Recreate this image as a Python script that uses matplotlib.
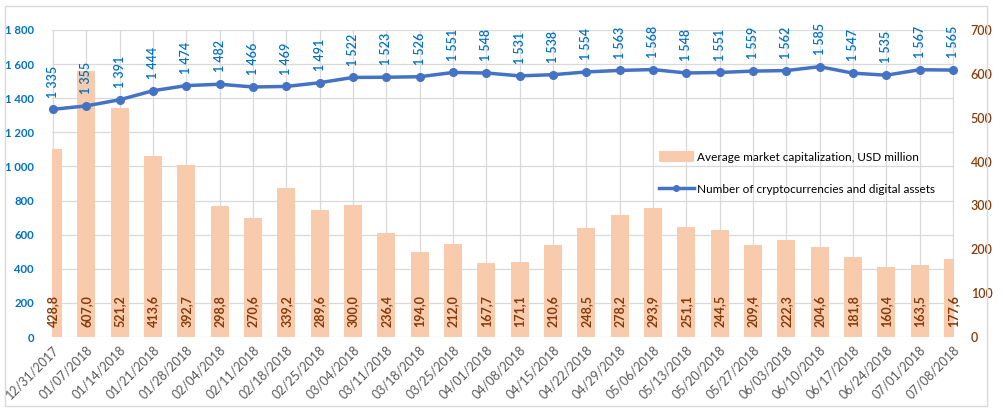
import matplotlib
matplotlib.use("Agg")
import matplotlib.pyplot as plt
from matplotlib.patches import Rectangle
from matplotlib.lines import Line2D
from matplotlib.patches import Patch

plt.rcParams['font.family'] = ['Lato', 'DejaVu Sans']

dates = ["12/31/2017", "01/07/2018", "01/14/2018", "01/21/2018", "01/28/2018",
         "02/04/2018", "02/11/2018", "02/18/2018", "02/25/2018", "03/04/2018",
         "03/11/2018", "03/18/2018", "03/25/2018", "04/01/2018", "04/08/2018",
         "04/15/2018", "04/22/2018", "04/29/2018", "05/06/2018", "05/13/2018",
         "05/20/2018", "05/27/2018", "06/03/2018", "06/10/2018", "06/17/2018",
         "06/24/2018", "07/01/2018", "07/08/2018"]
num_assets = [1335, 1355, 1391, 1444, 1474, 1482, 1466, 1469, 1491, 1522,
              1523, 1526, 1551, 1548, 1531, 1538, 1554, 1563, 1568, 1548,
              1551, 1559, 1562, 1585, 1547, 1535, 1567, 1565]
avg_cap = [428.8, 607.0, 521.2, 413.6, 392.7, 298.8, 270.6, 339.2, 289.6, 300.0,
           236.4, 194.0, 212.0, 167.7, 171.1, 210.6, 248.5, 278.2, 293.9, 251.1,
           244.5, 209.4, 222.3, 204.6, 181.8, 160.4, 163.5, 177.6]
left_ticks = [0, 200, 400, 600, 800, 1000, 1200, 1400, 1600, 1800]
right_ticks = [0, 100, 200, 300, 400, 500, 600, 700]

bar_label = "Average market capitalization, USD million"
line_label = "Number of cryptocurrencies and digital assets"

BAR_C = "#F8CBAD"
LINE_C = "#4472C4"
BLUE_T = "#0070C0"
BROWN_T = "#843C0C"
GRID_C = "#D9D9D9"

fig = plt.figure(figsize=(10.04, 4.12), dpi=100)
ax = fig.add_axes([52/1004, 75/412, 902/1004, 307/412])
x = list(range(len(dates)))

# base axes: grid + left ticks
ax.set_xlim(-0.03, len(dates) - 1 + 0.03)
ax.set_ylim(0, 1800)
ax.set_yticks(left_ticks)
ax.set_yticklabels([f"{v:,}".replace(",", " ") for v in left_ticks],
                   color=BLUE_T, fontsize=8.2, fontweight='bold')
ax.set_xticks(x)
ax.set_xticklabels(dates, rotation=45, ha='right', rotation_mode='anchor',
                   color="#595959", fontsize=9)
ax.grid(True, color=GRID_C, lw=0.9)
ax.set_axisbelow(True)
ax.tick_params(length=0)
ax.tick_params(axis='y', pad=13)
ax.tick_params(axis='x', pad=5)
for s in ax.spines.values():
    s.set_visible(False)

# bars on the right axis
axb = ax.twinx()
axb.set_ylim(0, 700)
axb.bar(x, avg_cap, width=0.54, color=BAR_C, zorder=2)
axb.set_yticks(right_ticks)
axb.set_yticklabels([str(v) for v in right_ticks], color=BROWN_T, fontsize=9,
                    fontweight='semibold')
axb.tick_params(length=0, pad=12)
for s in axb.spines.values():
    s.set_visible(False)
for xi, v in zip(x, avg_cap):
    axb.annotate(f"{v:.1f}".replace(".", ","), (xi, 0), xytext=(0, 7.5),
                 textcoords='offset points', rotation=90, ha='center',
                 va='bottom', color=BROWN_T, fontsize=9, fontweight='bold')

# line on the left scale
axl = ax.twinx()
axl.set_ylim(0, 1800)
axl.set_yticks([])
for s in axl.spines.values():
    s.set_visible(False)
axl.plot(x, num_assets, color=LINE_C, lw=2.5, marker='o', ms=5.5, zorder=3,
         clip_on=False)
for xi, v in zip(x, num_assets):
    axl.annotate(f"{v:,}".replace(",", " "), (xi, v), xytext=(0, 8.5),
                 textcoords='offset points', rotation=90, ha='center',
                 va='bottom', color=BLUE_T, fontsize=9, fontweight='semibold')

handles = [Patch(facecolor=BAR_C, edgecolor='none'),
           Line2D([0], [0], color=LINE_C, lw=2.5, marker='o', ms=4)]
fig.legend(handles, [bar_label, line_label], loc='center left',
           bbox_to_anchor=(648/1004, 1 - 173/412), frameon=False, fontsize=8.5,
           handlelength=3.0, handletextpad=0.25, labelspacing=1.75,
           handleheight=1.1)

fig.add_artist(Rectangle((5/1004, 6/412), 982/1004, 400/412,
                         transform=fig.transFigure, fill=False,
                         edgecolor=GRID_C, lw=1))

fig.savefig("out.png", dpi=100)
